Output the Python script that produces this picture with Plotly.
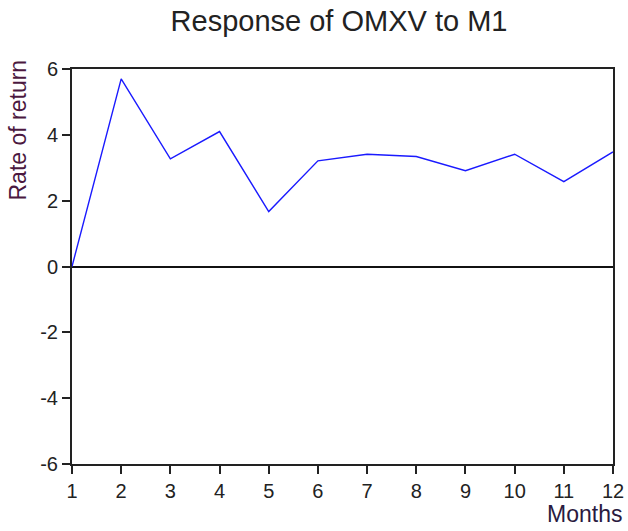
import plotly.graph_objects as go

months = list(range(1, 13))
response = [0.0, 5.70, 3.27, 4.10, 1.67, 3.21, 3.41, 3.34, 2.91, 3.41, 2.58, 3.48]
x_ticks = list(range(1, 13))
y_ticks = [-6, -4, -2, 0, 2, 4, 6]
y_tick_text = ["-6", "-4", "-2", "0", "2", "4", "6"]

W, H = 628, 531
L, R, T, B = 72, 15, 69, 67
PW, PH = W - L - R, H - T - B

fig = go.Figure()
fig.add_trace(go.Scatter(x=months, y=response, mode="lines",
                         line=dict(color="#1a1aff", width=1.4), showlegend=False))

fig.update_layout(
    width=W, height=H,
    margin=dict(l=L, r=R, t=T, b=B),
    paper_bgcolor="white", plot_bgcolor="white",
    font=dict(family="Liberation Sans, Arial, sans-serif", size=20, color="#222222"),
    title=dict(text="Response of OMXV to M1", x=339 / W, xanchor="center",
               y=1 - 21 / H, yanchor="middle", font=dict(size=29, color="#222222")),
)
fig.update_xaxes(
    range=[1, 12], tickmode="array", tickvals=x_ticks,
    ticks="outside", ticklen=8, tickwidth=2, tickcolor="#222",
    showline=True, linecolor="#222", linewidth=2, mirror=True,
    showgrid=False, zeroline=False, automargin=False,
    tickfont=dict(size=20),
)
fig.update_yaxes(
    range=[-6, 6], tickmode="array", tickvals=y_ticks, ticktext=y_tick_text,
    ticks="outside", ticklen=8, tickwidth=2, tickcolor="#222",
    showline=True, linecolor="#222", linewidth=2, mirror=True,
    showgrid=False, zeroline=True, zerolinecolor="#111", zerolinewidth=1.6,
    automargin=False, tickfont=dict(size=20),
)
fig.add_annotation(text="Rate of return", xref="paper", yref="paper",
                   x=(17.5 - L) / PW, y=(T + PH - 130) / PH,
                   xanchor="center", yanchor="middle", textangle=-90, showarrow=False,
                   font=dict(size=23, color="#4b1840"))
fig.add_annotation(text="Months", xref="paper", yref="paper",
                   x=(624 - L) / PW, y=-(514 - (T + PH)) / PH,
                   xanchor="right", yanchor="middle", showarrow=False,
                   font=dict(size=23, color="#2a1a40"))

fig.write_html(
    "out.html",
    config={"displayModeBar": False},
    post_script="document.body.style.margin='0';document.body.style.overflow='hidden';",
)
